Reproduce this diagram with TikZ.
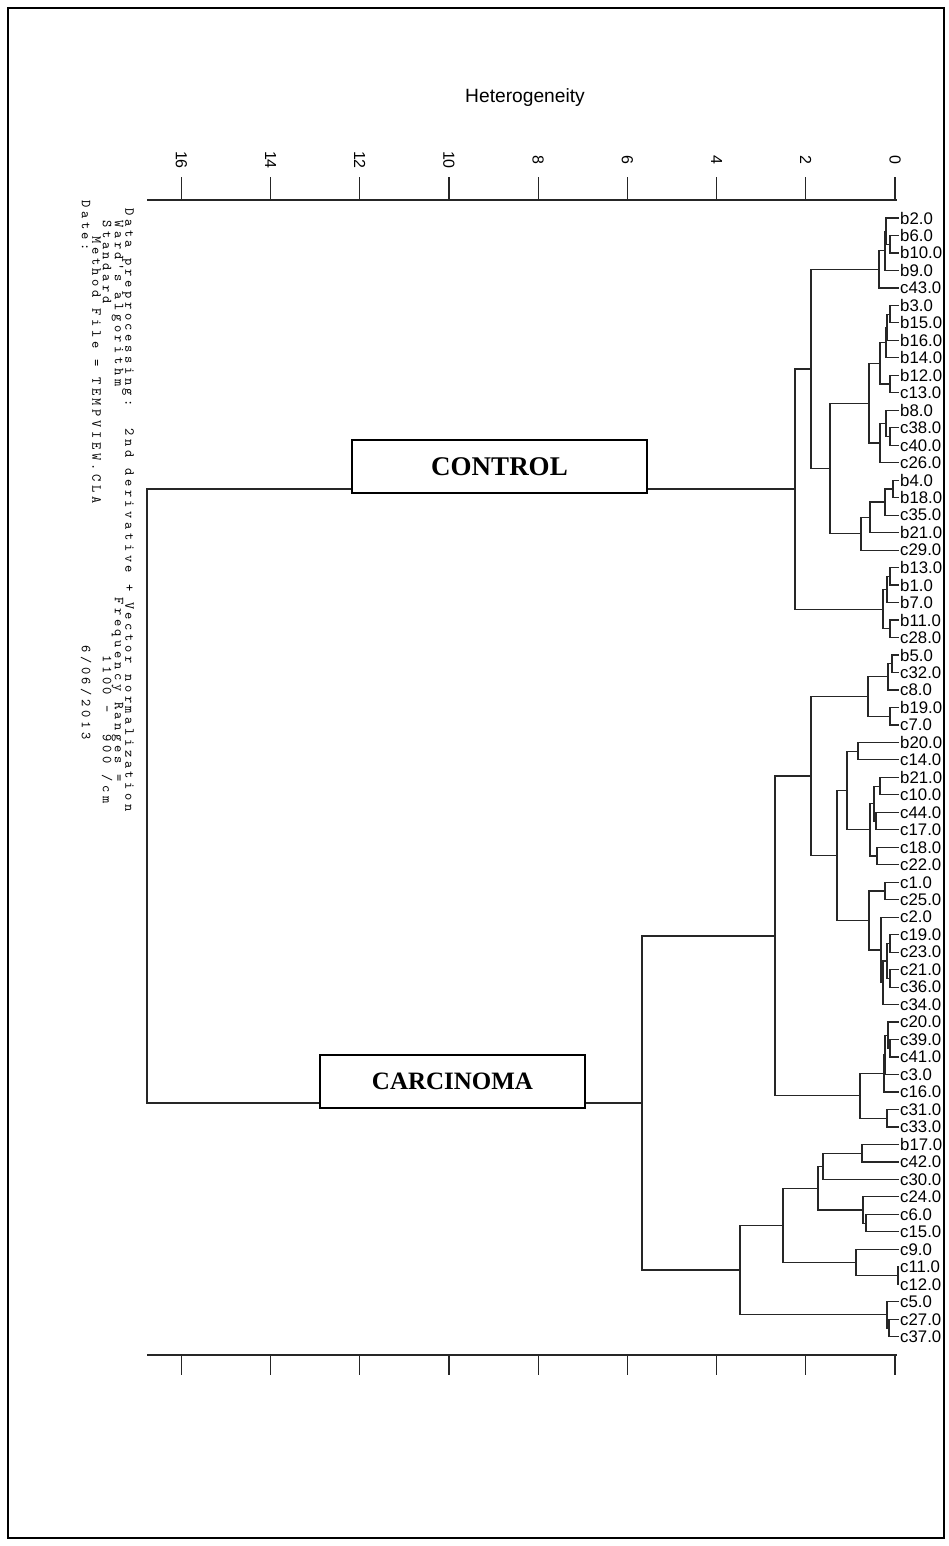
\documentclass[tikz,border=0pt]{standalone}
\usepackage{fontspec}
\setmainfont{Liberation Serif}
\setsansfont{Liberation Sans}
\newfontfamily\infofont[LetterSpace=26]{lmmono10-regular.otf}
\usetikzlibrary{calc}

\tikzset{
  tree/.style={line width=0.6pt, draw=black!85},
  leaf/.style={anchor=west, inner sep=0.4pt, font=\sffamily\fontsize{8.4}{8.4}\selectfont},
  ticklab/.style={rotate=-90, font=\sffamily\fontsize{8}{8}\selectfont},
  info/.style={rotate=-90, anchor=west, inner sep=0pt, font=\infofont\fontsize{6.9}{6.9}\selectfont},
  group/.style={draw=black, line width=0.6pt, fill=white, minimum height=26.5pt, font=\rmfamily\bfseries},
}

% merge two clusters at height x: elbow lines from each child to the parent
\newcommand\joinat[4]{%
  \path (#3) -- (#4) coordinate[pos=0.5] (#1-m);
  \coordinate (#1) at (#2,0 |- #1-m);
  \draw[tree] (#3) -| (#1) |- (#4);
}

\begin{document}
\begin{tikzpicture}[x=0.5pt, y=-0.5pt]
\useasboundingbox (0,0) rectangle (948,1546);
\draw[line width=0.8pt] (8,8) rectangle (944,1538);

% axis title
\node[font=\sffamily\fontsize{9.6}{9.6}\selectfont] (title) at (525,98) {Heterogeneity};

% top and bottom scales
\coordinate (ax0) at (147,200);
\coordinate (ax1) at (897,200);
\draw[tree] (ax0) -- (ax1);
\coordinate (bx0) at (147,1355);
\coordinate (bx1) at (897,1355);
\draw[tree] (bx0) -- (bx1);
\foreach \v in {0,2,...,16}{
  \coordinate (t\v) at ({895-44.6*\v},200);
  \coordinate (b\v) at ({895-44.6*\v},1355);
  \draw[tree] (t\v) -- ++(0,-23);
  \draw[tree] (b\v) -- ++(0,20);
  \node[ticklab] (tl\v) at ({895-44.6*\v},160) {\v};
}

% run information
\node[info] (i1) at (128,208) {Data preprocessing:\ \ 2nd derivative + Vector normalization};
\node[info] (i2a) at (117.5,220) {Ward's algorithm};
\node[info] (i2b) at (117.5,597) {Frequency Ranges =};
\node[info] (i3a) at (107,220) {Standard};
\node[info] (i3b) at (107,655) {1100 - \ 900 /cm};
\node[info] (i4) at (96.5,236) {Method File = TEMPVIEW.CLA};
\node[info] (i5a) at (86,200) {Date:};
\node[info] (i5b) at (86,645) {6/06/2013};

% leaves
\foreach \lab [count=\i from 0] in {b2,b6,b10,b9,c43,b3,b15,b16,b14,b12,c13,b8,c38,c40,c26,b4,b18,c35,b21,c29,b13,b1,b7,b11,c28,b5,c32,c8,b19,c7,b20,c14,b21,c10,c44,c17,c18,c22,c1,c25,c2,c19,c23,c21,c36,c34,c20,c39,c41,c3,c16,c31,c33,b17,c42,c30,c24,c6,c15,c9,c11,c12,c5,c27,c37}{
  \node[leaf] (l\i) at (899,{218+17.48*\i}) {\lab.0};
}

% control cluster
\joinat{m1}{890}{l1.west}{l2.west}
\joinat{m2}{886}{l0.west}{m1}
\joinat{m3}{885}{m2}{l3.west}
\joinat{m4}{879}{m3}{l4.west}
\joinat{m5}{890}{l5.west}{l6.west}
\joinat{m6}{887}{m5}{l7.west}
\joinat{m7}{886}{m6}{l8.west}
\joinat{m8}{890}{l9.west}{l10.west}
\joinat{m9}{880}{m7}{m8}
\joinat{m10}{890}{l12.west}{l13.west}
\joinat{m11}{886}{l11.west}{m10}
\joinat{m12}{880}{m11}{l14.west}
\joinat{m13}{869}{m9}{m12}
\joinat{m14}{893}{l15.west}{l16.west}
\joinat{m15}{885}{m14}{l17.west}
\joinat{m16}{870}{m15}{l18.west}
\joinat{m17}{861}{m16}{l19.west}
\joinat{m18}{830}{m13}{m17}
\joinat{m19}{811}{m4}{m18}
\joinat{m20}{890}{l20.west}{l21.west}
\joinat{m21}{887}{m20}{l22.west}
\joinat{m22}{890}{l23.west}{l24.west}
\joinat{m23}{883}{m21}{m22}
\joinat{ctrl}{795}{m19}{m23}

% carcinoma cluster
\joinat{n1}{892}{l25.west}{l26.west}
\joinat{n2}{888}{n1}{l27.west}
\joinat{n3}{890}{l28.west}{l29.west}
\joinat{n4}{868}{n2}{n3}
\joinat{n5}{858}{l30.west}{l31.west}
\joinat{n6}{880}{l32.west}{l33.west}
\joinat{n7}{876}{l34.west}{l35.west}
\joinat{n8}{874}{n6}{n7}
\joinat{n9}{877}{l36.west}{l37.west}
\joinat{n10}{870}{n8}{n9}
\joinat{n11}{847}{n5}{n10}
\joinat{n12}{885}{l38.west}{l39.west}
\joinat{n13}{890}{l41.west}{l42.west}
\joinat{n14}{890}{l43.west}{l44.west}
\joinat{n15}{887}{n13}{n14}
\joinat{n16}{883}{n15}{l45.west}
\joinat{n17}{881}{l40.west}{n16}
\joinat{n18}{869}{n12}{n17}
\joinat{n19}{837}{n11}{n18}
\joinat{n20}{811}{n4}{n19}
\joinat{n21}{890}{l47.west}{l48.west}
\joinat{n22}{888}{l46.west}{n21}
\joinat{n23}{885}{n22}{l49.west}
\joinat{n24}{884}{n23}{l50.west}
\joinat{n25}{887}{l51.west}{l52.west}
\joinat{n26}{860}{n24}{n25}
\joinat{upper}{775}{n20}{n26}
\joinat{n27}{862}{l53.west}{l54.west}
\joinat{n28}{823}{n27}{l55.west}
\joinat{n29}{866}{l57.west}{l58.west}
\joinat{n30}{863}{l56.west}{n29}
\joinat{n31}{818}{n28}{n30}
\joinat{n32}{898}{l60.west}{l61.west}
\joinat{n33}{856}{l59.west}{n32}
\joinat{n34}{783}{n31}{n33}
\joinat{n35}{889}{l63.west}{l64.west}
\joinat{n36}{887}{l62.west}{n35}
\joinat{lower}{740}{n34}{n36}
\joinat{carc}{642}{upper}{lower}

% root
\joinat{root}{147}{ctrl}{carc}

% group labels
\node[group, minimum width=147.5pt, font=\rmfamily\bfseries\fontsize{13.5}{13.5}\selectfont] (gctrl) at (499.5,466.5) {CONTROL};
\node[group, minimum width=132.5pt, font=\rmfamily\bfseries\fontsize{12.5}{12.5}\selectfont] (gcarc) at (452.5,1081.5) {CARCINOMA};
\end{tikzpicture}
\end{document}
